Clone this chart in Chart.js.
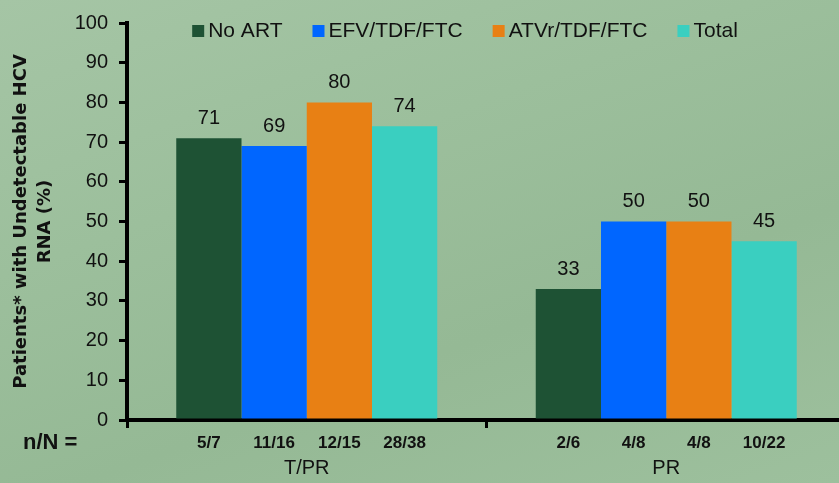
<!DOCTYPE html>
<html>
<head>
<meta charset="utf-8">
<script src="https://cdn.jsdelivr.net/npm/chart.js@4.4.1/dist/chart.umd.min.js"></script>
<style>
  html, body {
    margin: 0;
    padding: 0;
    overflow: hidden;
    width: 839px;
    height: 483px;
  }
  body {
    background: linear-gradient(160deg, #a5c5a5 0%, #9cbf9c 35%, #95b995 65%, #9dc09d 100%);
  }
  #chart {
    display: block;
  }
</style>
</head>
<body>
<canvas id="chart" width="846" height="483" style="width:846px;height:483px"></canvas>
<script>
// categories and values
const categories = ["T/PR", "PR"];
const noArt = [71, 33];
const efv = [69, 50];
const atv = [80, 50];
const total = [74, 45];

// n/N counts shown under each bar
const noArtN = ["5/7", "2/6"];
const efvN = ["11/16", "4/8"];
const atvN = ["12/15", "4/8"];
const totalN = ["28/38", "10/22"];

const yTitle = ["Patients* with Undetectable HCV", "RNA (%)"];

const countsBySeries = [noArtN, efvN, atvN, totalN];

const textFont = "'Liberation Sans', Arial, sans-serif";

// one-row legend laid over the top of the plot, as in the slide
const topLegend = {
  id: "topLegend",
  afterDraw(chart) {
    const ctx = chart.ctx;
    const sets = chart.data.datasets;
    const box = 12, gapText = 4, gapItem = 30;
    ctx.save();
    ctx.font = "21px " + textFont;
    ctx.textBaseline = "middle";
    ctx.textAlign = "left";
    const widths = sets.map((ds) => ctx.measureText(ds.label).width);
    let full = 0;
    widths.forEach((w) => (full += box + gapText + w));
    full += gapItem * (sets.length - 1);
    let x = 465 - full / 2;
    const y = 31;
    sets.forEach((ds, i) => {
      ctx.fillStyle = ds.backgroundColor;
      ctx.fillRect(x, y - box / 2, box, box);
      ctx.fillStyle = "#111";
      ctx.fillText(ds.label, x + box + gapText, y);
      x += box + gapText + widths[i] + gapItem;
    });
    ctx.restore();
  },
};

// value labels above bars and the n/N row under the axis
const barLabels = {
  id: "barLabels",
  afterDatasetsDraw(chart) {
    const ctx = chart.ctx;
    const area = chart.chartArea;
    ctx.save();
    chart.data.datasets.forEach((ds, i) => {
      const meta = chart.getDatasetMeta(i);
      meta.data.forEach((bar, j) => {
        ctx.fillStyle = "#111";
        ctx.textAlign = "center";
        ctx.textBaseline = "middle";
        ctx.font = "20px " + textFont;
        ctx.fillText(ds.data[j], bar.x, bar.y - 20);

        ctx.font = "bold 17px " + textFont;
        ctx.fillText(countsBySeries[i][j], bar.x, area.bottom + 23);
      });
    });
    ctx.font = "bold 22px " + textFont;
    ctx.textAlign = "left";
    ctx.fillText("n/N =", 23, area.bottom + 23);
    ctx.restore();
  },
};

new Chart(document.getElementById("chart"), {
  type: "bar",
  data: {
    labels: categories,
    datasets: [
      { label: "No ART", data: noArt, backgroundColor: "#1e5234" },
      { label: "EFV/TDF/FTC", data: efv, backgroundColor: "#0066ff" },
      { label: "ATVr/TDF/FTC", data: atv, backgroundColor: "#e88014" },
      { label: "Total", data: total, backgroundColor: "#3acfc0" },
    ],
  },
  options: {
    responsive: false,
    animation: false,
    devicePixelRatio: 1,
    layout: {
      padding: { top: 20, right: 0, bottom: 0, left: 0 },
    },
    datasets: {
      bar: {
        categoryPercentage: 0.726,
        barPercentage: 1,
        borderWidth: 0,
      },
    },
    plugins: {
      tooltip: { enabled: false },
      legend: { display: false },
    },
    scales: {
      x: {
        afterFit(scale) {
          scale.height = 63;
        },
        border: { display: true, color: "#000", width: 4 },
        grid: {
          display: true,
          drawOnChartArea: false,
          offset: true,
          tickLength: 8,
          color: "#000",
          lineWidth: 3,
        },
        ticks: {
          padding: 28,
          color: "#111",
          font: { family: textFont, size: 20 },
        },
      },
      y: {
        min: 0,
        max: 100,
        afterFit(scale) {
          scale.width = 127;
        },
        border: { display: true, color: "#000", width: 4 },
        grid: {
          display: true,
          drawOnChartArea: false,
          tickLength: 8,
          color: "#000",
          lineWidth: 3,
        },
        ticks: {
          stepSize: 10,
          padding: 11,
          color: "#111",
          font: { family: textFont, size: 20 },
        },
        title: {
          display: true,
          text: yTitle,
          color: "#111",
          padding: { top: 9, bottom: 0 },
          font: { family: "'DejaVu Sans', sans-serif", size: 18, weight: "bold", lineHeight: 1.33 },
        },
      },
    },
  },
  plugins: [topLegend, barLabels],
});
</script>
</body>
</html>
